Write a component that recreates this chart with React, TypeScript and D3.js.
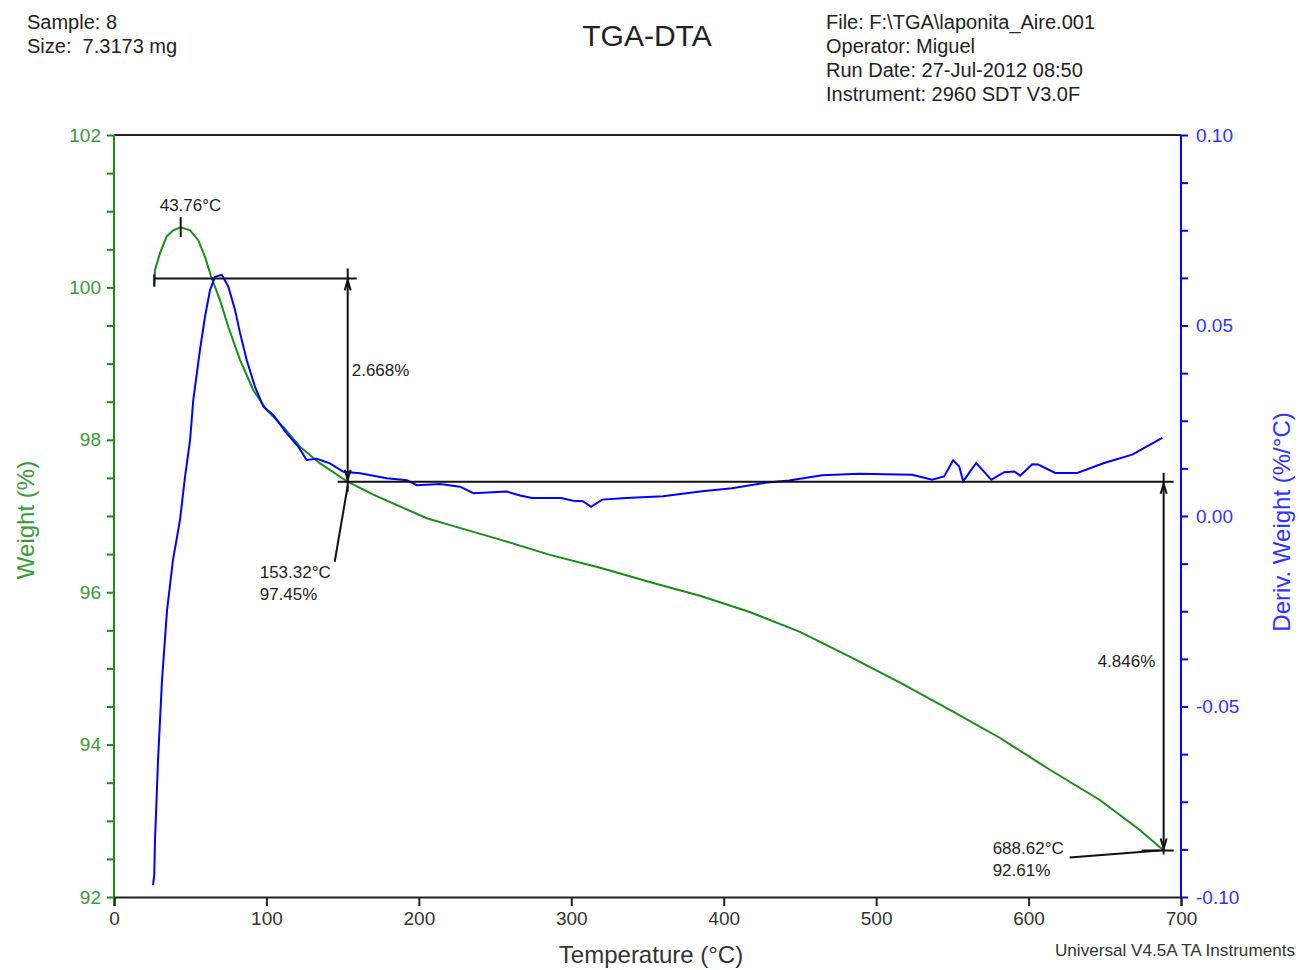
import * as d3 from "d3";
import { useEffect, useRef } from "react";

// Weight (%) curve
const tempW = [26.4, 26.9, 30.2, 34.6, 38.9, 43.76, 49.9, 55.3, 59.7, 64.1, 69.6, 75.0, 82.7, 91.4, 100.2, 111.1, 122.0, 135.2, 153.32, 170.1, 205.2, 220.5, 253.3, 286, 319, 352, 385, 417, 450, 483, 516, 549, 581, 614, 647, 673, 688.62];
const weight = [100.01, 100.23, 100.45, 100.67, 100.75, 100.79, 100.75, 100.62, 100.4, 100.12, 99.83, 99.48, 99.05, 98.65, 98.39, 98.17, 97.91, 97.69, 97.45, 97.28, 96.97, 96.88, 96.69, 96.49, 96.32, 96.13, 95.95, 95.74, 95.48, 95.15, 94.81, 94.45, 94.09, 93.67, 93.27, 92.88, 92.61];

// Deriv. weight (%/°C) curve
const tempD = [25.6, 26.4, 26.9, 28.9, 31.5, 34.8, 38.7, 43.3, 46.6, 49.9, 52.0, 56.4, 59.7, 63.0, 66.3, 70.7, 75.0, 79.4, 82.7, 87.1, 92.5, 98.0, 104.5, 113.3, 120.9, 126.4, 133.0, 141.7, 150.5, 161.4, 178.9, 192.1, 198.6, 213.9, 227.0, 235.8, 257.7, 266.4, 274.3, 293.3, 301.2, 307.7, 313.0, 320.2, 336.0, 360.2, 385.8, 405.5, 427.2, 442.9, 464.6, 488.8, 523.6, 536.7, 544.6, 550.5, 554.5, 557.1, 561.0, 565.6, 571.5, 575.5, 584.0, 590.6, 594.5, 602.4, 606.3, 617.5, 631.9, 649.6, 668.0, 687.7];
const deriv = [-0.0969, -0.0942, -0.085, -0.064, -0.043, -0.0247, -0.0115, -0.001, 0.0103, 0.0199, 0.0304, 0.0436, 0.0523, 0.0593, 0.0628, 0.0633, 0.0602, 0.0541, 0.048, 0.0409, 0.0339, 0.0287, 0.0265, 0.0217, 0.0182, 0.0147, 0.015, 0.0138, 0.0116, 0.0112, 0.0099, 0.0094, 0.0081, 0.0084, 0.0077, 0.006, 0.0064, 0.0054, 0.0047, 0.0047, 0.004, 0.0039, 0.0024, 0.0043, 0.0047, 0.0052, 0.0065, 0.0073, 0.0087, 0.0093, 0.0107, 0.0111, 0.0108, 0.0095, 0.0104, 0.0146, 0.013, 0.0091, 0.0113, 0.0139, 0.0113, 0.0095, 0.0115, 0.0117, 0.0106, 0.0136, 0.0135, 0.0113, 0.0113, 0.0139, 0.0161, 0.0205];

// annotation values
const peakT = 43.76;
const step1 = { t: 153.32, w: 97.45, loss: 2.668 };
const step2 = { t: 688.62, w: 92.61, loss: 4.846 };

const headerLeft = ["Sample: 8", "Size:  7.3173 mg"];
const headerRight = ["File: F:\\TGA\\laponita_Aire.001", "Operator: Miguel", "Run Date: 27-Jul-2012 08:50", "Instrument: 2960 SDT V3.0F"];

const GREEN = "#1a8c1a";
const GREEN_TXT = "#3a9a3a";
const BLUE = "#0000ff";
const BLUE_TXT = "#3333ff";
const FONT = "'Liberation Sans', Arial, sans-serif";

export default function App() {
    const ref = useRef<SVGSVGElement | null>(null);

    useEffect(() => {
        if (!ref.current) return;
        const m = { left: 114, right: 1181, top: 135, bottom: 897 };

        const svg = d3.select(ref.current);
        svg.selectAll("*").remove();
        svg.attr("font-family", FONT);

        const x = d3.scaleLinear().domain([0, 700]).range([m.left, m.right]);
        const y = d3.scaleLinear().domain([92, 102]).range([m.bottom, m.top]);
        const y2 = d3.scaleLinear().domain([-0.1, 0.1]).range([m.bottom, m.top]);

        // header
        svg.append("g").selectAll("text").data(headerLeft).join("text")
            .attr("x", 27).attr("y", (_, i) => 29 + i * 24)
            .attr("font-size", 20).attr("fill", "#222").style("white-space", "pre").text((d) => d);
        svg.append("g").selectAll("text").data(headerRight).join("text")
            .attr("x", 826).attr("y", (_, i) => 29 + i * 24)
            .attr("font-size", 20).attr("fill", "#222").text((d) => d);
        svg.append("text").attr("x", 647).attr("y", 46).attr("text-anchor", "middle")
            .attr("font-size", 30).attr("fill", "#222").text("TGA-DTA");

        // top frame line
        svg.append("line").attr("x1", m.left).attr("x2", m.right).attr("y1", m.top).attr("y2", m.top)
            .attr("stroke", "#222").attr("stroke-width", 2);

        // bottom axis: minor + major
        const bx = svg.append("g").attr("transform", `translate(0,${m.bottom})`);
        bx.call(d3.axisBottom(x).tickValues(d3.range(0, 701, 25)).tickSize(6).tickFormat(() => ""));
        bx.call(d3.axisBottom(x).tickValues(d3.range(0, 701, 100)).tickSize(9).tickFormat(d3.format("d")));
        bx.selectAll("path,line").attr("stroke", "#222").attr("stroke-width", 2);
        bx.selectAll("text").attr("font-size", 19).attr("font-family", FONT).attr("fill", "#333").attr("dy", "0.85em");

        // left axis
        const lx = svg.append("g").attr("transform", `translate(${m.left},0)`);
        lx.call(d3.axisLeft(y).tickValues(d3.range(92, 102.01, 0.5)).tickSize(7)
            .tickFormat((d) => (Math.abs(+d % 2) < 1e-6 ? String(d) : "")));
        lx.selectAll("path,line").attr("stroke", GREEN).attr("stroke-width", 2);
        lx.select("path").attr("d", `M0,${m.bottom}V${m.top}`);
        lx.selectAll("text").attr("font-size", 19).attr("font-family", FONT).attr("fill", GREEN_TXT).attr("x", -13);

        // right axis
        const rx = svg.append("g").attr("transform", `translate(${m.right},0)`);
        rx.call(d3.axisRight(y2).tickValues(d3.range(-0.1, 0.1001, 0.0125)).tickSize(7)
            .tickFormat((d) => {
                const v = +d;
                return Math.abs(v * 20 - Math.round(v * 20)) < 1e-6 ? v.toFixed(2) : "";
            }));
        rx.selectAll("path,line").attr("stroke", BLUE).attr("stroke-width", 2);
        rx.select("path").attr("d", `M0,${m.bottom}V${m.top}`);
        rx.selectAll("text").attr("font-size", 19).attr("font-family", FONT).attr("fill", BLUE_TXT).attr("x", 15);

        // axis titles
        svg.append("text").attr("x", 651).attr("y", 963).attr("text-anchor", "middle")
            .attr("font-size", 24).attr("fill", "#333").text("Temperature (°C)");
        svg.append("text").attr("transform", `translate(34,${520}) rotate(-90)`).attr("text-anchor", "middle")
            .attr("font-size", 24).attr("fill", GREEN_TXT).text("Weight (%)");
        svg.append("text").attr("transform", `translate(1290,${522}) rotate(-90)`).attr("text-anchor", "middle")
            .attr("font-size", 24).attr("fill", BLUE_TXT).text("Deriv. Weight (%/°C)");
        svg.append("text").attr("x", 1055).attr("y", 956).attr("font-size", 17)
            .attr("textLength", 240).attr("lengthAdjust", "spacingAndGlyphs").attr("fill", "#333")
            .text("Universal V4.5A TA Instruments");

        // curves
        const wLine = d3.line<number>().x((d) => x(d)).y((_, i) => y(weight[i]));
        svg.append("path").attr("d", wLine(tempW)).attr("fill", "none").attr("stroke", GREEN).attr("stroke-width", 2);
        const dLine = d3.line<number>().x((d) => x(d)).y((_, i) => y2(deriv[i]));
        svg.append("path").attr("d", dLine(tempD)).attr("fill", "none").attr("stroke", BLUE).attr("stroke-width", 2);

        // annotations
        const ann = svg.append("g").attr("stroke", "#111").attr("stroke-width", 2).attr("fill", "none");
        const seg = (x1: number, y1: number, x2: number, y2_: number) =>
            ann.append("line").attr("x1", x1).attr("y1", y1).attr("x2", x2).attr("y2", y2_);
        const arrow = (px: number, py: number, dir: number) => {
            ann.append("path").attr("d", `M${px - 3},${py + dir * 10}L${px},${py}L${px + 3},${py + dir * 10}`);
        };
        const txt = (s: string, tx: number, ty: number) =>
            svg.append("text").attr("x", tx).attr("y", ty).attr("font-size", 17).attr("fill", "#222").text(s);

        // peak marker
        const px0 = x(peakT);
        const wPeak = y(100.79);
        seg(px0, wPeak - 10, px0, wPeak + 10);
        txt(`${peakT.toFixed(2)}°C`, px0 - 21, wPeak - 16);

        // step 1
        const sx = x(step1.t);
        const yTop1 = y(step1.w + step1.loss);
        const yBot1 = y(step1.w);
        seg(x(tempW[0]), yTop1, sx + 9, yTop1);
        seg(x(tempW[0]), yTop1 - 4, x(tempW[0]), yTop1 + 8);
        seg(sx, yTop1 - 10, sx, yBot1 + 10);
        arrow(sx, yTop1 + 2, 1);
        arrow(sx, yBot1 - 2, -1);
        txt(`${step1.loss.toFixed(3)}%`, sx + 4, (yTop1 + yBot1) / 2 - 4);

        // baseline at 97.45 %
        seg(sx - 10, yBot1, x(step2.t) + 10, yBot1);

        // step 1 leader + label
        seg(sx, yBot1 + 4, sx - 13, yBot1 + 80);
        txt(`${step1.t.toFixed(2)}°C`, sx - 88, yBot1 + 96);
        txt(`${step1.w.toFixed(2)}%`, sx - 88, yBot1 + 118);

        // step 2
        const ex = x(step2.t);
        const yBot2 = y(step2.w);
        seg(ex, yBot1 - 9, ex, yBot2 + 4);
        arrow(ex, yBot1 + 2, 1);
        arrow(ex, yBot2 - 2, -1);
        seg(ex - 22, yBot2, ex + 10, yBot2);
        seg(ex - 94, yBot2 + 7, ex - 4, yBot2);
        txt(`${step2.loss.toFixed(3)}%`, ex - 66, (yBot1 + yBot2) / 2 + 1);
        txt(`${step2.t.toFixed(2)}°C`, ex - 171, yBot2 + 3);
        txt(`${step2.w.toFixed(2)}%`, ex - 171, yBot2 + 25);
    }, []);

    return (
        <div style={{ position: "absolute", left: 0, top: 0 }}>
            <svg ref={ref} width={1300} height={970} style={{ display: "block", background: "#fff" }}></svg>
        </div>
    );
}
